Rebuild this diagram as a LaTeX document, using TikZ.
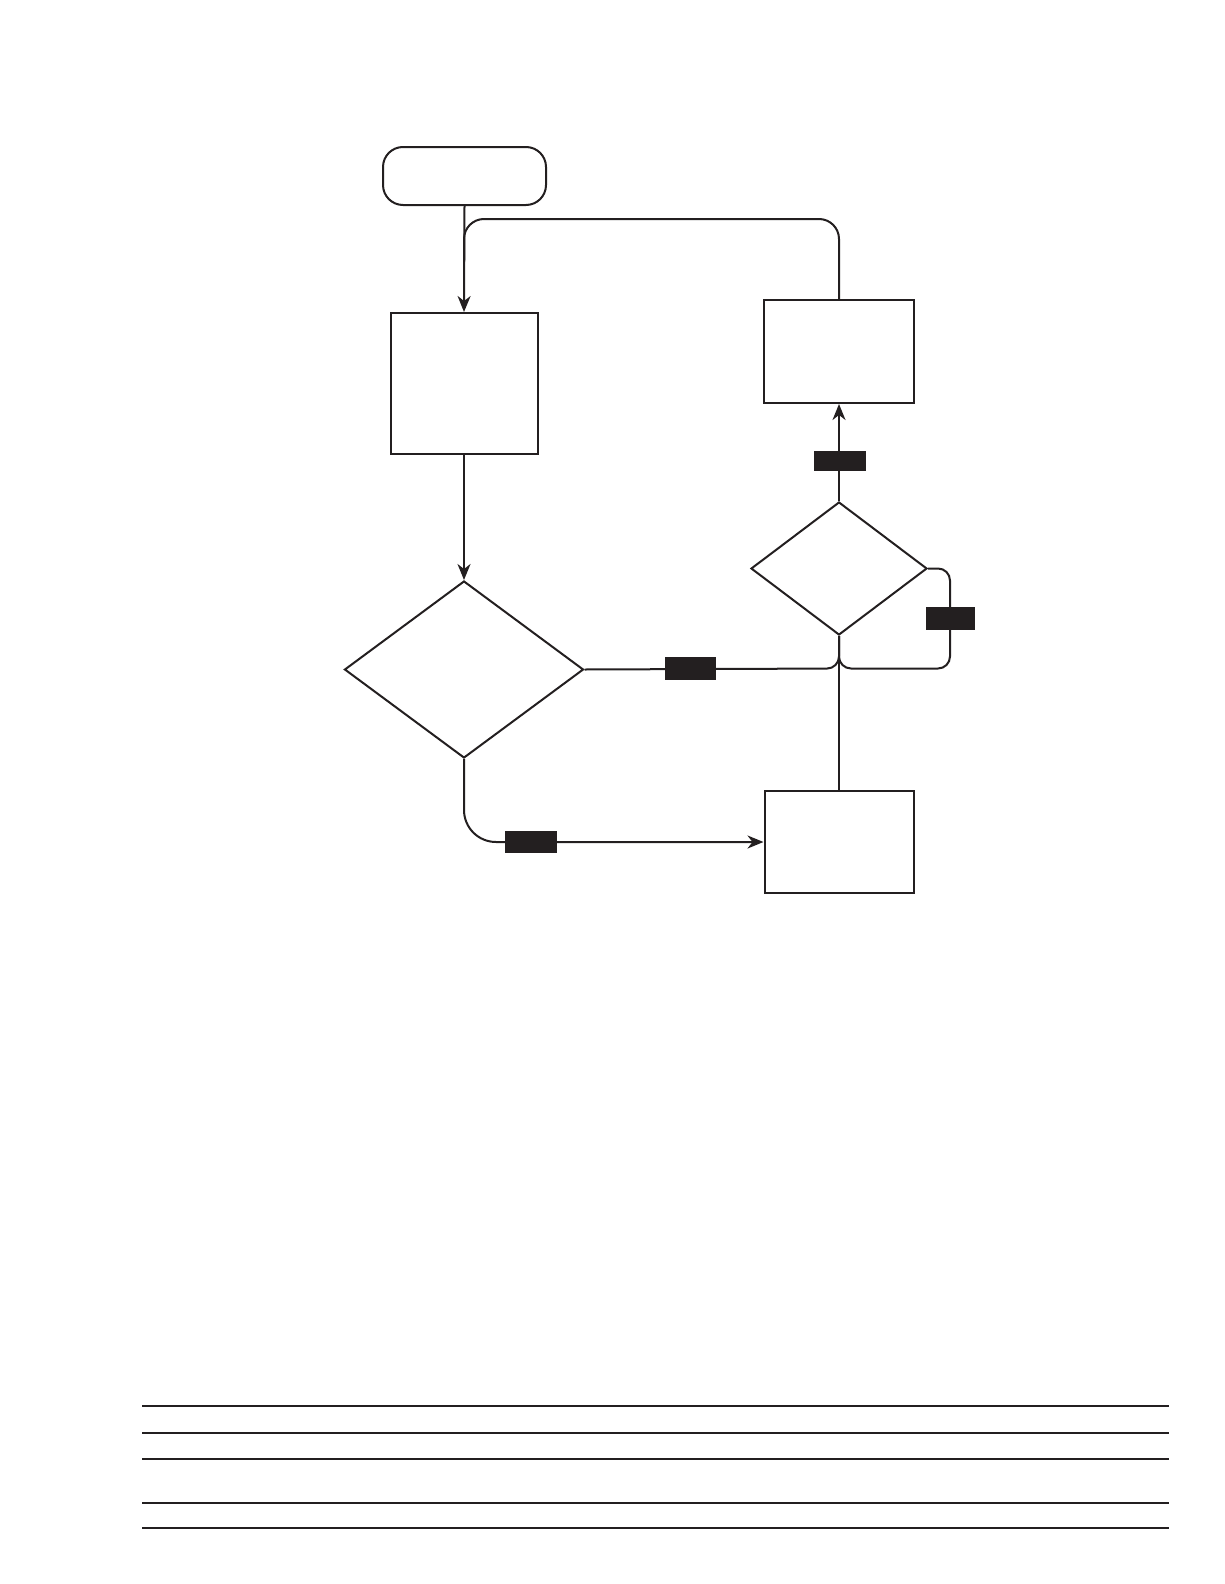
\documentclass[tikz,border=0pt]{standalone}
\usetikzlibrary{shapes.geometric,arrows.meta}
\definecolor{ink}{HTML}{231F20}
\tikzset{
  line/.style={draw=ink, line width=2pt},
  arr/.style={line, -{Stealth[length=16pt,width=13pt,inset=5pt]}},
  boxnode/.style={draw=ink, line width=2pt, rectangle, inner sep=0pt},
  startnode/.style={draw=ink, line width=2pt, rectangle, rounded corners=20pt, inner sep=0pt, minimum width=163pt, minimum height=58pt},
  decide/.style={draw=ink, line width=2pt, diamond, inner sep=0pt},
  tag/.style={fill=ink, rectangle, inner sep=0pt},
  rule/.style={draw=ink, line width=1.5pt}
}
\begin{document}
\begin{tikzpicture}[x=1pt,y=-1pt]
\useasboundingbox (0,0) rectangle (1224,1584);
\node[startnode] (start) at (464.5,176) {};
\node[boxnode, minimum width=147pt, minimum height=141pt] (b1) at (464,383.5) {};
\node[boxnode, minimum width=150pt, minimum height=103pt] (b2) at (839,351.5) {};
\node[boxnode, minimum width=149pt, minimum height=102pt] (b3) at (839,842) {};
\node[decide, minimum width=239pt, minimum height=177pt] (d1) at (464,669.5) {};
\node[decide, minimum width=176pt, minimum height=133pt] (d2) at (839,568.5) {};

\coordinate (loopTR) at (839,219);
\coordinate (loopTL) at (464,219);
\coordinate (loopEnd) at (464,262);
\coordinate (mergeL) at (839,668.5);
\coordinate (rloopT) at (950,568.5);
\coordinate (rloopB) at (950,668.5);
\coordinate (botL) at (464,842);

\draw[arr] (start.south) -- (b1.north);
\draw[line, rounded corners=20pt] (b2.north) -- (loopTR) -- (loopTL) -- (loopEnd);
\draw[arr] (b1.south) -- (d1.north);
\draw[line, rounded corners=12pt] (d1.east) -- (mergeL) -- (d2.south);
\draw[line, rounded corners=12pt] (d2.east) -- (rloopT) -- (rloopB) -- (mergeL) -- (d2.south);
\draw[line] (b3.north) -- (d2.south);
\draw[arr] (d2.north) -- (b2.south);
\draw[arr, rounded corners=32pt] (d1.south) -- (botL) -- (b3.west);

\node[tag, minimum width=52pt, minimum height=20pt] (tA) at (840,461) {};
\node[tag, minimum width=49pt, minimum height=23pt] (tB) at (950,618.5) {};
\node[tag, minimum width=51pt, minimum height=23pt] (tC) at (690.5,668.5) {};
\node[tag, minimum width=52pt, minimum height=22pt] (tD) at (531,842) {};

\foreach \yy [count=\i] in {1406,1433,1459,1503,1528} {
  \coordinate (rl\i) at (142,\yy);
  \coordinate (rr\i) at (1169,\yy);
  \draw[rule] (rl\i) -- (rr\i);
}
\end{tikzpicture}
\end{document}
